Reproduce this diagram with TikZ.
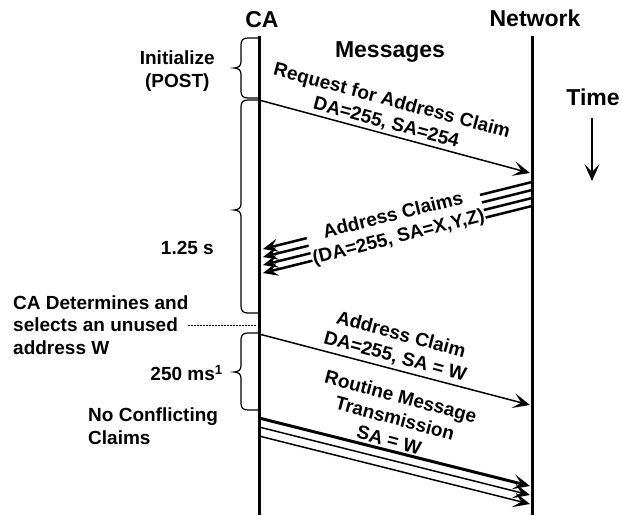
\documentclass[tikz,border=0pt]{standalone}
\usepackage{fontspec}
\setmainfont{Liberation Sans}
\usetikzlibrary{arrows.meta}

\begin{document}
\begin{tikzpicture}[x=1pt,y=-1pt,
  every node/.style={font=\bfseries\fontsize{19}{22.5}\selectfont, inner sep=1pt},
  header/.style={font=\bfseries\fontsize{23}{27}\selectfont},
  lifeline/.style={line width=3pt},
  msg/.style={line width=1.5pt, -{Stealth[length=17pt,width=15pt,inset=8pt]}},
  claim/.style={line width=2.5pt, -{Stealth[length=15pt,width=13pt,inset=6pt]}},
  mlabel/.style={align=center},
  note/.style={align=left, anchor=west},
  brc/.style={line width=1.2pt},
  guide/.style={line width=1pt, dash pattern=on 2pt off 1pt}]
\useasboundingbox (0,0) rectangle (622,515);
\node[header] (ca) at (262,20) {CA};
\node[header] (net) at (535,18) {Network};
\node[header] (msgs) at (390,52) {Messages};
\node[header] (time) at (593,97) {Time};
\coordinate (caT) at (259,36); \coordinate (caB) at (259,515);
\coordinate (netT) at (532,36); \coordinate (netB) at (532,515);
\draw[lifeline] (caT) -- (caB);
\draw[lifeline] (netT) -- (netB);
\coordinate (tA) at (592,118); \coordinate (tB) at (592,181);
\draw[msg] (tA) -- (tB);
\foreach \t/\m/\b in {38/68/98,100/210/313,333/372/410}
  \draw[brc] (258,\t) -- (248,\t) .. controls (243,\t) and (241,\t+2) .. (241,\t+7)
    -- (241,\m-6) .. controls (241,\m-2) and (238,\m) .. (234,\m)
    .. controls (238,\m) and (241,\m+2) .. (241,\m+6)
    -- (241,\b-7) .. controls (241,\b-2) and (243,\b) .. (248,\b) -- (258,\b);
\node[align=center, anchor=east] (init) at (216,71) {Initialize\\(POST)};
\node[anchor=east] (t125) at (215,248) {1.25 s};
\node[note] (sel) at (12,325) {CA Determines and\\selects an unused\\address W};
\node[anchor=east] (t250) at (224,373) {250 ms\textsuperscript{1}};
\node[note] (noconf) at (87,426) {No Conflicting\\Claims};
\coordinate (dA) at (188,325); \coordinate (dB) at (257,325);
\draw[guide] (dA) -- (dB);
\coordinate (rq1) at (259,100); \coordinate (rq2) at (530,173);
\draw[msg] (rq1) -- (rq2);
\node[mlabel, rotate=-15] (rqlbl) at (389,112) {Request for Address Claim\\DA=255, SA=254};
\foreach \i in {0,...,3} {
  \coordinate (ac\i) at (532,182+8*\i);
  \coordinate (cl\i) at (263,249+8*\i);
  \draw[claim] (ac\i) -- (cl\i);
}
\node[mlabel, fill=white, rotate=14] (cllbl) at (396,227) {Address Claims\\(DA=255, SA=X,Y,Z)};
\coordinate (w1) at (259,334); \coordinate (w2) at (530,405);
\draw[msg] (w1) -- (w2);
\node[mlabel, rotate=-15] (wlbl) at (398,346) {Address Claim\\DA=255, SA = W};
\foreach \i/\w in {0/3pt,1/1.5pt,2/1.5pt} {
  \coordinate (rt\i) at (259,418+9*\i);
  \coordinate (rn\i) at (530,486+9*\i);
  \draw[msg, line width=\w] (rt\i) -- (rn\i);
}
\node[mlabel, rotate=-15] (rtlbl) at (395,418) {Routine Message\\Transmission\\SA = W};
\end{tikzpicture}
\end{document}
